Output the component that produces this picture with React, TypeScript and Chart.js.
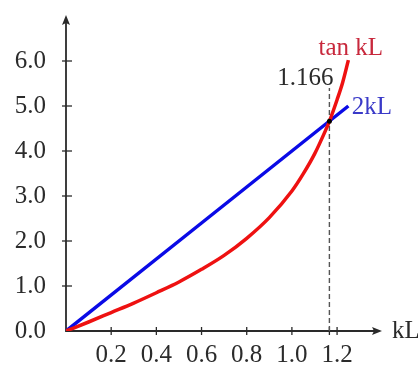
import React, { useEffect, useRef } from "react";
import { Chart, registerables } from "chart.js";

Chart.register(...registerables);

// kL values and plotted tan curve
const tanX = [0, 0.1, 0.2, 0.3, 0.4, 0.5, 0.6, 0.7, 0.8, 0.9, 1.0, 1.05, 1.1, 1.15, 1.166, 1.2, 1.225, 1.25];
const tanY = [0, 0.2, 0.41, 0.62, 0.85, 1.09, 1.37, 1.68, 2.06, 2.52, 3.11, 3.49, 3.93, 4.47, 4.66, 5.14, 5.53, 6.02];
// straight line 2kL
const lineX = [0, 0.6, 1.25];
const lineY = [0, 2.4, 5.0];
// tick labels
const xTicks = [0.2, 0.4, 0.6, 0.8, 1.0, 1.2];
const yTicks = [0, 1, 2, 3, 4, 5, 6];
// intersection
const crossX = 1.166;
const crossY = 4.66;
const crossLabel = "1.166";

const FONT = "'Liberation Serif', 'DejaVu Serif', serif";
const AXIS = "#2a2a2a";

export default function App() {
  const ref = useRef<HTMLCanvasElement>(null);
  useEffect(() => {
    const canvas = ref.current!;
    const overlay = {
      id: "overlay",
      beforeDatasetsDraw(chart: any) {
        const { ctx, chartArea, scales } = chart;
        const x = scales.x, y = scales.y;
        const x0 = x.getPixelForValue(0), y0 = y.getPixelForValue(0);
        ctx.save();
        ctx.strokeStyle = AXIS;
        ctx.fillStyle = AXIS;
        ctx.lineWidth = 1.8;
        // x axis
        const xr = chartArea.right + 2;
        ctx.beginPath(); ctx.moveTo(x0, y0); ctx.lineTo(xr - 6, y0); ctx.stroke();
        ctx.beginPath(); ctx.moveTo(xr, y0); ctx.lineTo(xr - 10, y0 - 4); ctx.lineTo(xr - 8, y0); ctx.lineTo(xr - 10, y0 + 4); ctx.closePath(); ctx.fill();
        // y axis
        const yt = chartArea.top - 1;
        ctx.beginPath(); ctx.moveTo(x0, y0 + 1); ctx.lineTo(x0, yt + 6); ctx.stroke();
        ctx.beginPath(); ctx.moveTo(x0, yt); ctx.lineTo(x0 - 4, yt + 10); ctx.lineTo(x0, yt + 8); ctx.lineTo(x0 + 4, yt + 10); ctx.closePath(); ctx.fill();
        // ticks
        ctx.lineWidth = 1.3;
        [...xTicks, crossX].forEach((v) => {
          const px = x.getPixelForValue(v);
          ctx.beginPath(); ctx.moveTo(px, y0 - 4); ctx.lineTo(px, y0 + 4); ctx.stroke();
        });
        yTicks.slice(1).forEach((v) => {
          const py = y.getPixelForValue(v);
          ctx.beginPath(); ctx.moveTo(x0 - 4, py); ctx.lineTo(x0 + 6, py); ctx.stroke();
        });
        // dashed guide
        ctx.strokeStyle = "#555";
        ctx.lineWidth = 1.4;
        ctx.setLineDash([5, 3]);
        const cx = x.getPixelForValue(crossX);
        ctx.beginPath(); ctx.moveTo(cx, y0); ctx.lineTo(cx, y.getPixelForValue(5.4)); ctx.stroke();
        ctx.restore();
      },
      afterDatasetsDraw(chart: any) {
        const { ctx, scales } = chart;
        const x = scales.x, y = scales.y;
        ctx.save();
        ctx.fillStyle = "#000";
        ctx.beginPath();
        ctx.arc(x.getPixelForValue(crossX), y.getPixelForValue(crossY), 2.5, 0, Math.PI * 2);
        ctx.fill();
        ctx.font = `25px ${FONT}`;
        ctx.textBaseline = "middle";
        ctx.textAlign = "center";
        ctx.fillStyle = "#c8283c";
        ctx.fillText("tan kL", x.getPixelForValue(1.261), y.getPixelForValue(6.29));
        ctx.fillStyle = "#2a2a2a";
        ctx.fillText(crossLabel, x.getPixelForValue(1.06), y.getPixelForValue(5.62));
        ctx.textAlign = "left";
        ctx.fillStyle = "#3a3ac8";
        ctx.fillText("2kL", x.getPixelForValue(1.265), y.getPixelForValue(4.96));
        ctx.fillStyle = "#2a2a2a";
        ctx.fillText("kL", chart.chartArea.right + 12, y.getPixelForValue(0));
        ctx.restore();
      },
    };
    const chart = new Chart(canvas, {
      type: "scatter",
      data: {
        datasets: [
          {
            label: "tan kL",
            data: tanX.map((v, i) => ({ x: v, y: tanY[i] })),
            showLine: true,
            borderColor: "#ee1111",
            borderWidth: 3.5,
            pointRadius: 0,
            cubicInterpolationMode: "monotone",
          },
          {
            label: "2kL",
            data: lineX.map((v, i) => ({ x: v, y: lineY[i] })),
            showLine: true,
            borderColor: "#0a0ae6",
            borderWidth: 3.5,
            pointRadius: 0,
          },
        ],
      },
      options: {
        responsive: false,
        animation: false,
        layout: { padding: { top: 16, right: 38, left: 0, bottom: 0 } },
        plugins: { legend: { display: false }, tooltip: { enabled: false } },
        scales: {
          x: {
            type: "linear",
            min: 0,
            max: 1.39,
            grid: { display: false, drawTicks: false },
            border: { display: false },
            afterBuildTicks: (s: any) => { s.ticks = xTicks.map((v) => ({ value: v })); },
            afterFit: (s: any) => { s.height = 36; s.paddingLeft = 0; s.paddingRight = 0; },
            ticks: {
              padding: 9,
              maxRotation: 0,
              autoSkip: false,
              color: "#2b2b2b",
              font: { family: FONT, size: 25 },
              callback: (v: any) => Number(v).toFixed(1),
            },
          },
          y: {
            type: "linear",
            min: 0,
            max: 7,
            grid: { display: false, drawTicks: false },
            border: { display: false },
            afterBuildTicks: (s: any) => { s.ticks = yTicks.map((v) => ({ value: v })); },
            afterFit: (s: any) => { s.width = 66; s.paddingTop = 0; s.paddingBottom = 0; },
            ticks: {
              padding: 20,
              autoSkip: false,
              color: "#2b2b2b",
              font: { family: FONT, size: 25 },
              callback: (v: any) => Number(v).toFixed(1),
            },
          },
        },
      },
      plugins: [overlay],
    } as any);
    return () => chart.destroy();
  }, []);
  return (
    <div style={{ position: "fixed", left: 0, top: 0, width: 418, height: 367, background: "#fff" }}>
      <canvas ref={ref} width={418} height={367} style={{ display: "block" }} />
    </div>
  );
}
